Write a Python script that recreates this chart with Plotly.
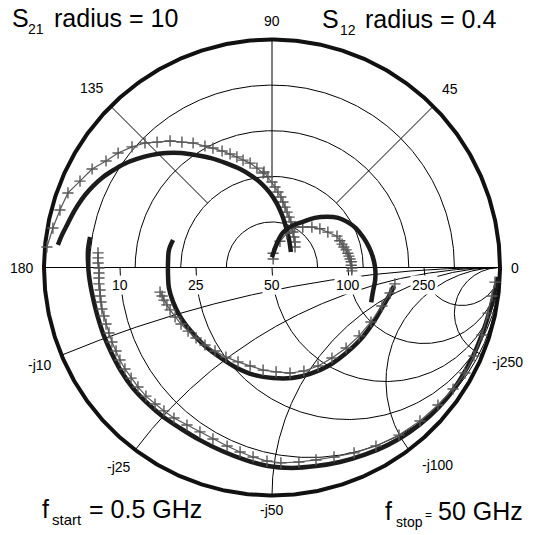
import numpy as np
import plotly.graph_objects as go

# ---- S-parameter data (real / imaginary parts) ----
# S21, outer circle radius = 10
s21_meas_re = [-9.39, -9.21, -8.99, -8.77, -8.51, -8.20, -7.85, -7.46, -7.02, -6.49, -5.92, -5.31, -4.65,
               -3.99, -3.33, -2.68, -2.02, -1.40, -0.88, -0.44, -0.09, 0.22, 0.44, 0.61, 0.75, 0.83]
s21_meas_im = [0.99, 1.43, 1.86, 2.30, 2.74, 3.18, 3.57, 3.93, 4.23, 4.54, 4.76, 4.93, 5.02,
               5.02, 4.93, 4.80, 4.58, 4.32, 4.01, 3.66, 3.27, 2.79, 2.30, 1.78, 1.21, 0.68]
s21_model_re = [-9.87, -9.61, -9.30, -8.95, -8.42, -7.89, -7.28, -6.75, -6.14, -5.57, -5.04, -4.47, -3.95,
                -3.46, -2.94, -2.59, -2.19, -1.84, -1.54, -1.27, -0.96, -0.66, -0.39, -0.35, -0.18, 0.00,
                0.13, 0.26, 0.39, 0.48, 0.57, 0.66, 0.75, 0.83, 0.88, 0.92, 0.96, 1.01, 1.01]
s21_model_im = [0.90, 1.73, 2.52, 3.27, 3.79, 4.32, 4.67, 5.02, 5.29, 5.46, 5.50, 5.55, 5.50,
                5.46, 5.33, 5.24, 5.11, 4.98, 4.85, 4.71, 4.58, 4.36, 4.14, 4.19, 3.97, 3.75,
                3.53, 3.31, 3.09, 2.87, 2.65, 2.43, 2.21, 2.00, 1.78, 1.56, 1.34, 1.12, 0.90]

# S12, outer circle radius = 0.4
s12_meas_re = [0.000, 0.009, 0.019, 0.035, 0.054, 0.075, 0.097, 0.116, 0.132, 0.147, 0.160, 0.170,
               0.177, 0.181, 0.181, 0.177, 0.174]
s12_meas_im = [0.018, 0.043, 0.061, 0.073, 0.080, 0.087, 0.089, 0.087, 0.080, 0.069, 0.053, 0.036,
               0.018, -0.001, -0.022, -0.043, -0.061]
s12_model_re = [0.002, 0.002, 0.014, 0.026, 0.040, 0.054, 0.070, 0.084, 0.098, 0.114, 0.119, 0.123,
                0.126, 0.130, 0.133, 0.135, 0.137, 0.139, 0.139, 0.140, 0.140]
s12_model_im = [0.015, 0.025, 0.046, 0.060, 0.071, 0.071, 0.071, 0.068, 0.062, 0.055, 0.047, 0.041,
                0.036, 0.031, 0.025, 0.020, 0.015, 0.010, 0.004, -0.001, -0.006]

# S11 (Smith chart, unit radius)
s11_meas_re = [-0.798, -0.807, -0.807, -0.803, -0.794, -0.781, -0.763, -0.737, -0.702, -0.662, -0.610,
               -0.548, -0.482, -0.404, -0.316, -0.219, -0.118, -0.018, 0.088, 0.193, 0.298, 0.404,
               0.509, 0.605, 0.693, 0.768, 0.829, 0.882, 0.925, 0.956, 0.978, 0.991]
s11_meas_im = [0.134, 0.077, 0.024, -0.033, -0.090, -0.151, -0.221, -0.300, -0.379, -0.454, -0.529,
               -0.594, -0.651, -0.704, -0.757, -0.805, -0.844, -0.871, -0.879, -0.871, -0.853, -0.822,
               -0.778, -0.721, -0.651, -0.572, -0.485, -0.388, -0.283, -0.186, -0.099, -0.042]
s11_model_re = [-0.763, -0.763, -0.763, -0.759, -0.759, -0.759, -0.759, -0.754, -0.754, -0.750, -0.746,
                -0.737, -0.728, -0.715, -0.702, -0.684, -0.667, -0.645, -0.618, -0.588, -0.553, -0.513,
                -0.474, -0.430, -0.373, -0.316, -0.259, -0.197, -0.140, -0.083, -0.022, 0.039, 0.118,
                0.193, 0.272, 0.360, 0.456, 0.557, 0.649, 0.728, 0.794, 0.846, 0.886, 0.921, 0.947,
                0.965, 0.978]
s11_model_im = [0.064, 0.042, 0.020, -0.002, -0.024, -0.046, -0.072, -0.099, -0.125, -0.151, -0.182,
                -0.213, -0.248, -0.287, -0.327, -0.366, -0.406, -0.445, -0.485, -0.524, -0.564, -0.599,
                -0.629, -0.660, -0.691, -0.721, -0.752, -0.783, -0.809, -0.831, -0.849, -0.857, -0.853,
                -0.844, -0.831, -0.813, -0.783, -0.735, -0.673, -0.603, -0.533, -0.463, -0.388, -0.296,
                -0.200, -0.125, -0.064]

# S22 (Smith chart, unit radius)
s22_meas_re = [-0.434, -0.452, -0.456, -0.456, -0.452, -0.434, -0.404, -0.360, -0.303, -0.237, -0.162,
               -0.079, 0.004, 0.088, 0.167, 0.246, 0.320, 0.386, 0.443, 0.487, 0.518, 0.535]
s22_meas_im = [0.121, 0.077, 0.024, -0.033, -0.090, -0.151, -0.213, -0.274, -0.336, -0.388, -0.436,
               -0.471, -0.485, -0.485, -0.467, -0.432, -0.379, -0.318, -0.243, -0.169, -0.116, -0.081]
s22_model_re = [-0.491, -0.482, -0.474, -0.461, -0.447, -0.425, -0.399, -0.368, -0.333, -0.294, -0.250,
                -0.202, -0.149, -0.096, -0.039, 0.018, 0.079, 0.140, 0.202, 0.263, 0.325, 0.382,
                0.434, 0.482, 0.518, 0.539]
s22_model_im = [-0.108, -0.125, -0.143, -0.164, -0.186, -0.217, -0.248, -0.279, -0.309, -0.340, -0.366,
                -0.393, -0.414, -0.432, -0.450, -0.458, -0.463, -0.454, -0.432, -0.397, -0.353, -0.300,
                -0.239, -0.169, -0.112, -0.072]

S21_RADIUS = 10.0
S12_RADIUS = 0.4

# grid annotations
polar_rings = [0.2, 0.4, 0.6, 0.8]
polar_spokes = [45, 90, 135]
angle_labels = ["0", "45", "90", "135", "180"]
z0 = 50
res_values = [10, 25, 50, 100, 250]
react_values = [10, 25, 50, 100, 250]

fig = go.Figure()
GRID = dict(color="black", width=1)


def line(x, y, **kw):
    fig.add_trace(go.Scatter(x=x, y=y, mode="lines", hoverinfo="skip", showlegend=False, **kw))


def gamma(z):
    return (z - 1) / (z + 1)


# upper half: polar magnitude rings and angle spokes
t = np.linspace(0, np.pi, 361)
for rho in polar_rings:
    line(rho * np.cos(t), rho * np.sin(t), line=GRID)
for ang in polar_spokes:
    a = np.radians(ang)
    line([0.4 * np.cos(a), np.cos(a)], [0.4 * np.sin(a), np.sin(a)], line=GRID)
line([-1, 1], [0, 0], line=GRID)

# lower half: Smith chart constant-resistance circles and capacitive reactance arcs
sweep = np.concatenate([np.linspace(0, 1, 200), np.logspace(0, 4, 600)])
for rv in res_values:
    g = gamma(rv / z0 - 1j * sweep)
    line(g.real, g.imag, line=GRID)
for xv in react_values:
    g = gamma(sweep - 1j * xv / z0)
    line(g.real, g.imag, line=GRID)

# outer boundary circle
tt = np.linspace(0, 2 * np.pi, 721)
line(np.cos(tt), np.sin(tt), line=dict(color="#111111", width=4))

DARK = dict(color="#1b1b1b", width=4.5, shape="spline")
GRAY = "#575757"


def meas(re, im, scale):
    line(np.array(re) / scale, np.array(im) / scale, line=DARK)


def model(re, im, scale):
    fig.add_trace(go.Scatter(
        x=np.array(re) / scale, y=np.array(im) / scale, mode="lines+markers",
        line=dict(color=GRAY, width=1.2),
        marker=dict(symbol="cross-thin", size=8, line=dict(color=GRAY, width=1.4)),
        hoverinfo="skip", showlegend=False))


meas(s11_meas_re, s11_meas_im, 1.0)
model(s11_model_re, s11_model_im, 1.0)
meas(s22_meas_re, s22_meas_im, 1.0)
model(s22_model_re, s22_model_im, 1.0)
model(s21_model_re, s21_model_im, S21_RADIUS)
meas(s21_meas_re, s21_meas_im, S21_RADIUS)
model(s12_model_re, s12_model_im, S12_RADIUS)
meas(s12_meas_re, s12_meas_im, S12_RADIUS)

FONT = "Liberation Sans, Arial, sans-serif"
W, H = 533, 535
ann = []

# angle labels around the upper half
for lab, ang, rad in zip(angle_labels, [0, 45, 90, 135, 180], [1.065, 1.105, 1.082, 1.115, 1.098]):
    a = np.radians(ang)
    ann.append(dict(x=rad * np.cos(a), y=rad * np.sin(a), text=lab, showarrow=False,
                    font=dict(size=14, family=FONT, color="black")))

# resistance labels on the real axis
for rv in res_values:
    gx = (rv / z0 - 1) / (rv / z0 + 1)
    ann.append(dict(x=gx, y=-0.077, text=str(rv), showarrow=False, bgcolor="white", borderpad=1,
                    font=dict(size=14, family=FONT, color="black")))

# reactance labels outside the rim
react_pos = [(-1.018, -0.428), (-0.671, -0.875), (0.0, -1.064), (0.724, -0.866), (1.031, -0.414)]
for xv, (px, py) in zip(react_values, react_pos):
    ann.append(dict(x=px, y=py, text="-j%d" % xv, showarrow=False,
                    font=dict(size=14, family=FONT, color="black")))


# corner captions, built from pieces so subscripts sit on their own baseline
def piece(text, left_px, mid_px, size):
    ann.append(dict(xref="paper", yref="paper", x=left_px / W, y=1 - mid_px / H,
                    xanchor="left", yanchor="middle", text=text, showarrow=False,
                    borderpad=0, font=dict(size=size, family=FONT, color="black")))


BIG = 25
piece("S", 11, 18, BIG)
piece("21", 27, 29, 14)
piece("radius = 10", 53, 18, BIG)

piece("S", 321, 19, BIG)
piece("12", 339, 30, 14)
piece("radius = 0.4", 364, 19, BIG)

piece("f", 41, 509, BIG)
piece("start", 51, 519, 15)
piece("= 0.5 GHz", 88, 509, BIG)

piece("f", 384, 511, BIG)
piece("stop", 395, 522, 14)
piece("=", 424, 515, 12)
piece("50 GHz", 437, 511, BIG)

fig.update_layout(
    width=W, height=H, margin=dict(l=0, r=0, t=0, b=0),
    paper_bgcolor="white", plot_bgcolor="white",
    xaxis=dict(range=[-272 / 228, 261 / 228], visible=False, fixedrange=True),
    yaxis=dict(range=[-267.5 / 228, 267.5 / 228], visible=False, fixedrange=True),
    annotations=ann, showlegend=False,
)

fig.write_html("out.html")
